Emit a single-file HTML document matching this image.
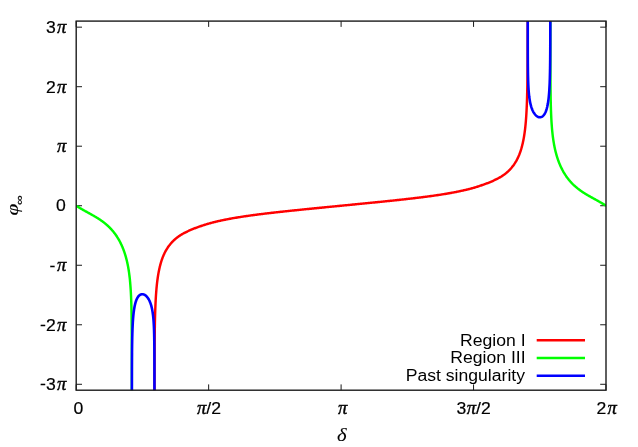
<!DOCTYPE html>
<html><head><meta charset="utf-8"><title>plot</title>
<style>
html,body{margin:0;padding:0;background:#fff;}
body{width:638px;height:447px;overflow:hidden;}
svg{display:block;will-change:transform;}
text{font-family:"Liberation Sans",sans-serif;font-size:17.6px;fill:#000;}
text{stroke:#000;stroke-width:0.2px;}
.s{stroke-width:0.4px;font-family:"Liberation Serif",serif;font-style:italic;font-size:18.6px;}
.c{fill:none;stroke-width:2.45;stroke-linejoin:round;stroke-linecap:butt;}
</style></head><body>
<svg width="638" height="447" viewBox="0 0 638 447">
<rect width="638" height="447" fill="#fff"/>
<defs><clipPath id="cp"><rect x="76.2" y="21.1" width="529.80" height="369.10"/></clipPath></defs>
<g stroke="#1a1a1a" stroke-width="1" fill="none"><path d="M76.20 390.2 v-5.8 M76.20 21.1 v5.8"/><path d="M208.65 390.2 v-5.8 M208.65 21.1 v5.8"/><path d="M341.10 390.2 v-5.8 M341.10 21.1 v5.8"/><path d="M473.55 390.2 v-5.8 M473.55 21.1 v5.8"/><path d="M606.00 390.2 v-5.8 M606.00 21.1 v5.8"/><path d="M76.2 384.29 h5.8 M606.0 384.29 h-5.8"/><path d="M76.2 324.77 h5.8 M606.0 324.77 h-5.8"/><path d="M76.2 265.25 h5.8 M606.0 265.25 h-5.8"/><path d="M76.2 205.73 h5.8 M606.0 205.73 h-5.8"/><path d="M76.2 146.21 h5.8 M606.0 146.21 h-5.8"/><path d="M76.2 86.69 h5.8 M606.0 86.69 h-5.8"/><path d="M76.2 27.17 h5.8 M606.0 27.17 h-5.8"/></g>
<g clip-path="url(#cp)">
<path class="c" stroke="#ff0000" d="M154.45 459.63 L154.45 458.73 L154.45 457.83 L154.45 456.95 L154.45 456.07 L154.45 455.20 L154.45 454.34 L154.45 453.49 L154.45 452.65 L154.45 451.81 L154.45 450.98 L154.45 450.16 L154.45 449.34 L154.45 448.53 L154.45 447.73 L154.45 446.54 L154.45 445.37 L154.45 444.21 L154.45 443.06 L154.45 441.93 L154.45 440.81 L154.45 439.71 L154.45 438.62 L154.45 437.54 L154.45 436.47 L154.45 435.41 L154.45 434.37 L154.45 433.34 L154.45 432.32 L154.45 431.31 L154.45 430.31 L154.45 429.32 L154.46 428.34 L154.46 427.38 L154.46 426.42 L154.46 425.47 L154.46 424.53 L154.46 423.60 L154.46 422.68 L154.46 421.77 L154.46 420.87 L154.46 419.98 L154.46 419.09 L154.46 418.22 L154.46 417.35 L154.46 416.49 L154.46 415.64 L154.46 414.79 L154.46 413.95 L154.46 413.12 L154.46 412.30 L154.46 411.49 L154.46 410.68 L154.46 409.88 L154.46 408.82 L154.46 407.77 L154.46 406.74 L154.46 405.71 L154.46 404.70 L154.46 403.70 L154.47 402.71 L154.47 401.73 L154.47 400.76 L154.47 399.80 L154.47 398.85 L154.47 397.91 L154.47 396.98 L154.47 396.06 L154.47 395.14 L154.47 394.24 L154.47 393.34 L154.47 392.46 L154.47 391.58 L154.48 390.71 L154.48 389.85 L154.48 388.99 L154.48 388.14 L154.48 387.31 L154.48 386.47 L154.48 385.65 L154.48 384.83 L154.48 384.02 L154.48 383.22 L154.49 382.23 L154.49 381.24 L154.49 380.27 L154.49 379.31 L154.49 378.35 L154.49 377.41 L154.50 376.47 L154.50 375.55 L154.50 374.63 L154.50 373.73 L154.50 372.83 L154.51 371.94 L154.51 371.06 L154.51 370.18 L154.51 369.32 L154.52 368.46 L154.52 367.61 L154.52 366.77 L154.52 365.94 L154.53 365.11 L154.53 364.29 L154.53 363.48 L154.53 362.68 L154.54 361.88 L154.54 360.93 L154.54 359.99 L154.55 359.06 L154.55 358.14 L154.56 357.23 L154.56 356.33 L154.56 355.43 L154.57 354.55 L154.57 353.67 L154.58 352.80 L154.58 351.94 L154.59 351.09 L154.59 350.24 L154.60 349.40 L154.60 348.57 L154.61 347.75 L154.61 346.94 L154.62 346.13 L154.63 345.33 L154.63 344.53 L154.64 343.61 L154.65 342.71 L154.65 341.80 L154.66 340.91 L154.67 340.03 L154.68 339.16 L154.69 338.29 L154.70 337.43 L154.71 336.58 L154.72 335.74 L154.73 334.90 L154.74 334.07 L154.75 333.25 L154.76 332.44 L154.77 331.63 L154.78 330.84 L154.79 330.04 L154.80 329.15 L154.82 328.26 L154.83 327.38 L154.85 326.51 L154.86 325.64 L154.88 324.79 L154.89 323.94 L154.91 323.10 L154.92 322.27 L154.94 321.45 L154.96 320.63 L154.98 319.82 L155.00 319.02 L155.01 318.22 L155.03 317.43 L155.05 316.65 L155.08 315.78 L155.10 314.92 L155.13 314.06 L155.15 313.22 L155.18 312.38 L155.20 311.54 L155.23 310.72 L155.26 309.90 L155.29 309.10 L155.32 308.29 L155.35 307.50 L155.38 306.71 L155.41 305.93 L155.44 305.16 L155.48 304.39 L155.51 303.54 L155.55 302.71 L155.59 301.88 L155.64 301.06 L155.68 300.24 L155.72 299.44 L155.77 298.64 L155.81 297.85 L155.86 297.06 L155.91 296.28 L155.96 295.51 L156.01 294.75 L156.06 293.99 L156.12 293.24 L156.18 292.42 L156.24 291.61 L156.30 290.81 L156.37 290.01 L156.43 289.23 L156.50 288.44 L156.57 287.67 L156.65 286.90 L156.72 286.14 L156.80 285.39 L156.87 284.64 L156.95 283.91 L157.04 283.17 L157.12 282.45 L157.21 281.72 L157.29 281.01 L157.39 280.24 L157.49 279.47 L157.60 278.72 L157.70 277.97 L157.81 277.22 L157.92 276.49 L158.04 275.76 L158.15 275.03 L158.27 274.32 L158.40 273.61 L158.52 272.90 L158.65 272.20 L158.78 271.51 L158.92 270.83 L159.06 270.15 L159.20 269.48 L159.34 268.81 L159.49 268.15 L159.64 267.49 L159.79 266.84 L159.95 266.20 L160.13 265.51 L160.31 264.82 L160.49 264.15 L160.68 263.48 L160.87 262.81 L161.06 262.16 L161.26 261.51 L161.47 260.86 L161.68 260.23 L161.89 259.60 L162.11 258.98 L162.34 258.36 L162.56 257.75 L162.80 257.14 L163.04 256.55 L163.28 255.96 L163.53 255.37 L163.78 254.79 L164.04 254.22 L164.31 253.65 L164.58 253.09 L164.85 252.54 L165.13 251.99 L165.42 251.45 L165.71 250.91 L166.01 250.38 L166.32 249.85 L166.63 249.34 L166.94 248.82 L167.26 248.31 L167.59 247.81 L167.93 247.31 L168.27 246.82 L168.62 246.33 L168.97 245.85 L169.33 245.37 L169.70 244.89 L170.07 244.42 L170.45 243.96 L170.84 243.50 L171.24 243.04 L171.64 242.59 L172.05 242.15 L172.47 241.71 L172.89 241.28 L173.32 240.85 L173.76 240.43 L174.21 240.01 L174.63 239.63 L175.05 239.25 L175.48 238.88 L175.92 238.51 L176.37 238.15 L176.82 237.78 L177.28 237.43 L177.75 237.08 L178.22 236.73 L178.70 236.38 L179.19 236.04 L179.69 235.71 L180.19 235.38 L180.70 235.05 L181.22 234.73 L181.75 234.41 L182.28 234.11 L182.82 233.80 L183.37 233.50 L183.93 233.20 L184.49 232.90 L185.07 232.61 L185.60 232.34 L186.14 232.07 L186.69 231.80 L187.24 231.53 L187.80 231.26 L188.37 230.98 L188.94 230.71 L189.53 230.45 L190.12 230.18 L190.71 229.92 L191.32 229.66 L191.93 229.40 L192.55 229.14 L193.12 228.91 L193.70 228.68 L194.28 228.45 L194.87 228.23 L195.47 228.00 L196.07 227.78 L196.68 227.55 L197.29 227.33 L197.92 227.11 L198.55 226.89 L199.18 226.67 L199.82 226.45 L200.47 226.23 L201.13 226.01 L201.79 225.78 L202.40 225.58 L203.01 225.38 L203.62 225.18 L204.24 224.98 L204.87 224.78 L205.50 224.57 L206.14 224.37 L206.79 224.17 L207.44 223.98 L208.09 223.78 L208.75 223.59 L209.42 223.40 L210.10 223.21 L210.78 223.02 L211.47 222.84 L212.16 222.66 L212.86 222.47 L213.57 222.29 L214.28 222.11 L215.00 221.94 L215.64 221.78 L216.29 221.62 L216.95 221.47 L217.61 221.31 L218.27 221.16 L218.94 221.01 L219.62 220.86 L220.30 220.71 L220.99 220.56 L221.68 220.41 L222.37 220.26 L223.08 220.11 L223.79 219.97 L224.50 219.82 L225.22 219.68 L225.94 219.53 L226.67 219.39 L227.41 219.25 L228.15 219.11 L228.90 218.96 L229.65 218.82 L230.41 218.69 L231.17 218.55 L231.94 218.41 L232.71 218.27 L233.40 218.15 L234.09 218.03 L234.78 217.91 L235.47 217.80 L236.18 217.68 L236.88 217.56 L237.59 217.44 L238.31 217.33 L239.03 217.21 L239.75 217.10 L240.48 216.98 L241.21 216.87 L241.95 216.75 L242.69 216.64 L243.44 216.53 L244.19 216.41 L244.95 216.30 L245.71 216.19 L246.48 216.08 L247.25 215.96 L248.03 215.85 L248.81 215.74 L249.59 215.63 L250.38 215.52 L251.18 215.41 L251.98 215.30 L252.79 215.19 L253.60 215.08 L254.41 214.97 L255.23 214.86 L255.94 214.77 L256.65 214.68 L257.37 214.59 L258.08 214.49 L258.81 214.40 L259.53 214.31 L260.26 214.22 L261.00 214.12 L261.73 214.03 L262.48 213.94 L263.22 213.85 L263.97 213.76 L264.72 213.66 L265.48 213.57 L266.24 213.48 L267.01 213.39 L267.77 213.30 L268.55 213.21 L269.32 213.12 L270.10 213.03 L270.89 212.94 L271.68 212.84 L272.47 212.75 L273.26 212.66 L274.06 212.57 L274.87 212.48 L275.68 212.39 L276.49 212.30 L277.31 212.21 L278.13 212.12 L278.95 212.03 L279.78 211.93 L280.61 211.84 L281.45 211.75 L282.29 211.66 L283.14 211.57 L283.99 211.48 L284.84 211.39 L285.70 211.29 L286.56 211.20 L287.43 211.11 L288.15 211.03 L288.88 210.95 L289.61 210.88 L290.35 210.80 L291.08 210.72 L291.82 210.65 L292.57 210.57 L293.31 210.49 L294.06 210.41 L294.82 210.33 L295.57 210.26 L296.33 210.18 L297.09 210.10 L297.86 210.02 L298.62 209.94 L299.39 209.86 L300.17 209.79 L300.94 209.71 L301.72 209.63 L302.51 209.55 L303.29 209.47 L304.08 209.39 L304.88 209.31 L305.67 209.23 L306.47 209.15 L307.27 209.07 L308.08 208.99 L308.88 208.91 L309.70 208.82 L310.51 208.74 L311.33 208.66 L312.15 208.58 L312.97 208.50 L313.80 208.42 L314.63 208.33 L315.47 208.25 L316.30 208.17 L317.14 208.08 L317.99 208.00 L318.83 207.92 L319.68 207.83 L320.54 207.75 L321.40 207.67 L322.26 207.58 L323.12 207.50 L323.99 207.41 L324.86 207.32 L325.73 207.24 L326.61 207.15 L327.49 207.07 L328.37 206.98 L329.26 206.89 L330.15 206.80 L331.04 206.72 L331.94 206.63 L332.84 206.54 L333.74 206.45 L334.65 206.36 L335.56 206.27 L336.29 206.20 L337.03 206.13 L337.76 206.06 L338.50 205.98 L339.24 205.91 L339.98 205.84 L340.73 205.77 L341.47 205.69 L342.22 205.62 L342.96 205.55 L343.70 205.48 L344.44 205.40 L345.17 205.33 L345.91 205.26 L346.64 205.19 L347.37 205.12 L348.28 205.03 L349.18 204.94 L350.08 204.85 L350.98 204.76 L351.87 204.67 L352.76 204.59 L353.65 204.50 L354.54 204.41 L355.42 204.33 L356.30 204.24 L357.17 204.15 L358.04 204.07 L358.91 203.98 L359.77 203.90 L360.63 203.81 L361.49 203.73 L362.34 203.64 L363.20 203.56 L364.04 203.48 L364.89 203.39 L365.73 203.31 L366.57 203.23 L367.40 203.14 L368.23 203.06 L369.06 202.98 L369.89 202.90 L370.71 202.81 L371.53 202.73 L372.34 202.65 L373.15 202.57 L373.96 202.49 L374.77 202.41 L375.57 202.33 L376.37 202.25 L377.17 202.17 L377.96 202.09 L378.75 202.01 L379.54 201.93 L380.32 201.85 L381.10 201.77 L381.88 201.69 L382.65 201.61 L383.42 201.53 L384.19 201.45 L384.96 201.38 L385.72 201.30 L386.48 201.22 L387.23 201.14 L387.99 201.06 L388.74 200.99 L389.48 200.91 L390.23 200.83 L390.97 200.75 L391.71 200.68 L392.44 200.60 L393.17 200.52 L393.90 200.44 L394.63 200.37 L395.49 200.27 L396.36 200.18 L397.22 200.09 L398.07 200.00 L398.92 199.91 L399.77 199.82 L400.61 199.72 L401.45 199.63 L402.28 199.54 L403.11 199.45 L403.94 199.36 L404.76 199.27 L405.57 199.18 L406.39 199.09 L407.20 198.99 L408.00 198.90 L408.80 198.81 L409.60 198.72 L410.39 198.63 L411.18 198.54 L411.97 198.45 L412.75 198.36 L413.52 198.27 L414.30 198.18 L415.07 198.08 L415.83 197.99 L416.59 197.90 L417.35 197.81 L418.10 197.72 L418.85 197.63 L419.60 197.54 L420.34 197.44 L421.08 197.35 L421.81 197.26 L422.55 197.17 L423.27 197.08 L424.00 196.98 L424.71 196.89 L425.43 196.80 L426.14 196.70 L426.85 196.61 L427.67 196.50 L428.49 196.39 L429.30 196.28 L430.11 196.17 L430.91 196.06 L431.70 195.95 L432.49 195.84 L433.28 195.73 L434.06 195.62 L434.84 195.51 L435.61 195.40 L436.38 195.29 L437.14 195.18 L437.90 195.06 L438.65 194.95 L439.40 194.84 L440.14 194.72 L440.88 194.61 L441.62 194.49 L442.35 194.38 L443.07 194.26 L443.79 194.15 L444.51 194.03 L445.22 193.92 L445.92 193.80 L446.63 193.68 L447.32 193.56 L448.02 193.44 L448.70 193.33 L449.39 193.21 L450.16 193.07 L450.93 192.93 L451.70 192.79 L452.46 192.65 L453.21 192.51 L453.96 192.37 L454.70 192.23 L455.44 192.09 L456.17 191.95 L456.89 191.80 L457.61 191.66 L458.33 191.51 L459.03 191.37 L459.74 191.22 L460.44 191.07 L461.13 190.92 L461.81 190.77 L462.50 190.62 L463.17 190.47 L463.84 190.32 L464.51 190.17 L465.17 190.01 L465.83 189.86 L466.48 189.70 L467.12 189.54 L467.84 189.37 L468.55 189.19 L469.26 189.01 L469.96 188.83 L470.66 188.64 L471.34 188.46 L472.03 188.27 L472.70 188.08 L473.37 187.89 L474.03 187.70 L474.69 187.51 L475.34 187.31 L475.99 187.11 L476.63 186.91 L477.26 186.71 L477.89 186.51 L478.51 186.30 L479.12 186.10 L479.73 185.90 L480.34 185.70 L481.00 185.48 L481.66 185.25 L482.31 185.03 L482.95 184.81 L483.59 184.59 L484.22 184.37 L484.84 184.15 L485.46 183.93 L486.07 183.71 L486.67 183.48 L487.27 183.26 L487.86 183.03 L488.44 182.80 L489.02 182.57 L489.59 182.34 L490.21 182.08 L490.83 181.82 L491.43 181.56 L492.03 181.30 L492.62 181.04 L493.20 180.77 L493.78 180.50 L494.35 180.23 L494.91 179.95 L495.46 179.68 L496.01 179.41 L496.55 179.14 L497.08 178.87 L497.66 178.58 L498.22 178.28 L498.78 177.99 L499.33 177.69 L499.87 177.38 L500.41 177.07 L500.94 176.76 L501.45 176.44 L501.97 176.11 L502.47 175.78 L502.97 175.44 L503.46 175.10 L503.94 174.76 L504.41 174.41 L504.88 174.06 L505.34 173.70 L505.79 173.35 L506.24 172.98 L506.68 172.61 L507.11 172.24 L507.54 171.86 L507.96 171.48 L508.41 171.07 L508.84 170.64 L509.28 170.21 L509.70 169.78 L510.12 169.34 L510.53 168.90 L510.93 168.45 L511.33 168.00 L511.72 167.54 L512.10 167.07 L512.47 166.60 L512.84 166.13 L513.20 165.65 L513.56 165.17 L513.90 164.68 L514.25 164.19 L514.58 163.69 L514.91 163.19 L515.23 162.68 L515.55 162.16 L515.86 161.65 L516.17 161.12 L516.46 160.59 L516.76 160.05 L517.05 159.51 L517.33 158.96 L517.60 158.41 L517.87 157.85 L518.14 157.28 L518.40 156.71 L518.65 156.13 L518.90 155.55 L519.15 154.96 L519.38 154.36 L519.62 153.76 L519.85 153.15 L520.07 152.53 L520.29 151.91 L520.51 151.28 L520.72 150.64 L520.92 150.00 L521.12 149.35 L521.32 148.70 L521.51 148.03 L521.70 147.36 L521.88 146.69 L522.06 146.00 L522.23 145.31 L522.39 144.67 L522.55 144.02 L522.70 143.37 L522.85 142.71 L522.99 142.04 L523.13 141.37 L523.27 140.69 L523.41 140.00 L523.54 139.31 L523.67 138.62 L523.79 137.91 L523.92 137.20 L524.04 136.49 L524.15 135.77 L524.27 135.04 L524.38 134.30 L524.49 133.56 L524.59 132.81 L524.70 132.05 L524.80 131.29 L524.90 130.51 L524.99 129.80 L525.07 129.08 L525.16 128.35 L525.24 127.62 L525.32 126.88 L525.40 126.14 L525.47 125.38 L525.55 124.63 L525.62 123.86 L525.69 123.09 L525.76 122.31 L525.83 121.52 L525.89 120.72 L525.96 119.92 L526.02 119.11 L526.08 118.29 L526.13 117.54 L526.19 116.79 L526.24 116.02 L526.29 115.25 L526.34 114.48 L526.38 113.69 L526.43 112.90 L526.47 112.10 L526.52 111.30 L526.56 110.48 L526.60 109.66 L526.64 108.84 L526.68 108.00 L526.72 107.16 L526.75 106.39 L526.79 105.62 L526.82 104.84 L526.85 104.05 L526.88 103.25 L526.91 102.45 L526.94 101.65 L526.97 100.83 L526.99 100.01 L527.02 99.18 L527.05 98.34 L527.07 97.49 L527.10 96.64 L527.12 95.78 L527.14 94.91 L527.16 94.12 L527.18 93.34 L527.20 92.54 L527.22 91.74 L527.24 90.93 L527.26 90.12 L527.27 89.29 L527.29 88.46 L527.31 87.62 L527.32 86.78 L527.34 85.92 L527.35 85.06 L527.37 84.19 L527.38 83.31 L527.40 82.42 L527.41 81.53 L527.42 80.74 L527.43 79.94 L527.44 79.14 L527.45 78.32 L527.46 77.50 L527.47 76.68 L527.48 75.84 L527.49 75.00 L527.50 74.15 L527.51 73.29 L527.52 72.43 L527.53 71.56 L527.54 70.67 L527.54 69.78 L527.55 68.88 L527.56 67.98 L527.57 67.06 L527.57 66.13 L527.58 65.33 L527.59 64.52 L527.59 63.71 L527.60 62.89 L527.60 62.06 L527.61 61.22 L527.61 60.37 L527.62 59.52 L527.62 58.66 L527.63 57.79 L527.63 56.91 L527.64 56.03 L527.64 55.13 L527.64 54.23 L527.65 53.32 L527.65 52.40 L527.66 51.47 L527.66 50.53 L527.66 49.58 L527.67 48.78 L527.67 47.98 L527.67 47.17 L527.67 46.35 L527.68 45.52 L527.68 44.69 L527.68 43.85 L527.68 43.00 L527.69 42.14 L527.69 41.28 L527.69 40.40 L527.69 39.52 L527.70 38.63 L527.70 37.73 L527.70 36.83 L527.70 35.91 L527.70 34.99 L527.71 34.05 L527.71 33.11 L527.71 32.15 L527.71 31.19 L527.71 30.22 L527.71 29.23 L527.72 28.24 L527.72 27.44 L527.72 26.63 L527.72 25.81 L527.72 24.99 L527.72 24.15 L527.72 23.32 L527.72 22.47 L527.72 21.61 L527.72 20.75 L527.73 19.88 L527.73 19.00 L527.73 18.12 L527.73 17.22 L527.73 16.32 L527.73 15.40 L527.73 14.48 L527.73 13.55 L527.73 12.61 L527.73 11.66 L527.73 10.70 L527.73 9.73 L527.73 8.75 L527.74 7.76 L527.74 6.76 L527.74 5.75 L527.74 4.72 L527.74 3.69 L527.74 2.64 L527.74 1.58 L527.74 0.78 L527.74 -0.03 L527.74 -0.84 L527.74 -1.66 L527.74 -2.49 L527.74 -3.33 L527.74 -4.18 L527.74 -5.03 L527.74 -5.89 L527.74 -6.76 L527.74 -7.63 L527.74 -8.52 L527.74 -9.41 L527.74 -10.31 L527.74 -11.22 L527.74 -12.14 L527.74 -13.07 L527.74 -14.01 L527.74 -14.96 L527.74 -15.92 L527.74 -16.88 L527.75 -17.86 L527.75 -18.85 L527.75 -19.85 L527.75 -20.86 L527.75 -21.88 L527.75 -22.91 L527.75 -23.95 L527.75 -25.01 L527.75 -26.08 L527.75 -27.16 L527.75 -28.25 L527.75 -29.35 L527.75 -30.47 L527.75 -31.60 L527.75 -32.75 L527.75 -33.91 L527.75 -35.08 L527.75 -36.27 L527.75 -37.07 L527.75 -37.88 L527.75 -38.70 L527.75 -39.52 L527.75 -39.93"/>
<path class="c" stroke="#00ff00" d="M76.20 205.73 L76.70 206.05 L77.20 206.37 L77.69 206.68 L78.23 207.02 L78.77 207.35 L79.31 207.67 L79.84 207.99 L80.36 208.31 L80.89 208.61 L81.41 208.92 L81.92 209.22 L82.43 209.51 L82.99 209.83 L83.54 210.14 L84.09 210.45 L84.64 210.75 L85.17 211.06 L85.71 211.35 L86.24 211.64 L86.76 211.93 L87.28 212.22 L87.80 212.51 L88.36 212.81 L88.91 213.12 L89.46 213.42 L90.00 213.72 L90.54 214.02 L91.07 214.31 L91.59 214.61 L92.12 214.90 L92.63 215.19 L93.14 215.48 L93.69 215.80 L94.23 216.11 L94.77 216.43 L95.30 216.74 L95.83 217.06 L96.35 217.37 L96.86 217.68 L97.37 218.00 L97.87 218.31 L98.37 218.63 L98.86 218.95 L99.35 219.26 L99.83 219.58 L100.34 219.93 L100.84 220.28 L101.34 220.63 L101.84 220.98 L102.32 221.33 L102.81 221.68 L103.28 222.04 L103.75 222.40 L104.21 222.76 L104.67 223.12 L105.13 223.49 L105.57 223.86 L106.01 224.23 L106.45 224.60 L106.88 224.97 L107.30 225.35 L107.75 225.76 L108.19 226.17 L108.63 226.58 L109.06 227.00 L109.49 227.42 L109.90 227.84 L110.32 228.27 L110.72 228.69 L111.12 229.13 L111.52 229.56 L111.91 230.00 L112.29 230.44 L112.67 230.88 L113.04 231.33 L113.41 231.77 L113.77 232.23 L114.13 232.68 L114.48 233.14 L114.83 233.60 L115.17 234.06 L115.50 234.52 L115.86 235.02 L116.20 235.52 L116.54 236.03 L116.88 236.54 L117.21 237.05 L117.53 237.56 L117.85 238.08 L118.17 238.60 L118.48 239.12 L118.78 239.64 L119.08 240.17 L119.37 240.70 L119.66 241.23 L119.94 241.77 L120.22 242.30 L120.49 242.84 L120.76 243.38 L121.02 243.93 L121.28 244.48 L121.53 245.02 L121.78 245.58 L122.04 246.16 L122.30 246.76 L122.55 247.35 L122.79 247.95 L123.03 248.54 L123.27 249.15 L123.50 249.75 L123.72 250.36 L123.95 250.97 L124.16 251.58 L124.37 252.19 L124.58 252.81 L124.79 253.43 L124.98 254.05 L125.18 254.67 L125.37 255.30 L125.56 255.93 L125.74 256.56 L125.92 257.19 L126.09 257.83 L126.26 258.47 L126.43 259.11 L126.59 259.76 L126.75 260.41 L126.91 261.06 L127.06 261.71 L127.21 262.37 L127.35 263.03 L127.50 263.70 L127.63 264.36 L127.77 265.03 L127.90 265.70 L128.03 266.38 L128.15 267.06 L128.28 267.74 L128.40 268.43 L128.51 269.12 L128.63 269.82 L128.74 270.52 L128.84 271.22 L128.95 271.92 L129.05 272.63 L129.15 273.35 L129.25 274.07 L129.34 274.79 L129.43 275.52 L129.52 276.25 L129.61 276.99 L129.69 277.73 L129.77 278.48 L129.85 279.24 L129.93 279.99 L130.00 280.76 L130.07 281.53 L130.15 282.30 L130.21 283.04 L130.27 283.78 L130.33 284.53 L130.39 285.28 L130.45 286.04 L130.50 286.80 L130.56 287.58 L130.61 288.35 L130.66 289.14 L130.71 289.93 L130.76 290.73 L130.80 291.53 L130.84 292.29 L130.89 293.06 L130.92 293.83 L130.96 294.62 L131.00 295.40 L131.04 296.20 L131.07 297.00 L131.10 297.82 L131.14 298.63 L131.17 299.41 L131.19 300.19 L131.22 300.97 L131.25 301.77 L131.27 302.57 L131.30 303.38 L131.32 304.20 L131.35 305.02 L131.37 305.86 L131.39 306.64 L131.41 307.43 L131.43 308.23 L131.45 309.04 L131.46 309.86 L131.48 310.68 L131.50 311.52 L131.51 312.36 L131.53 313.15 L131.54 313.94 L131.55 314.74 L131.57 315.55 L131.58 316.37 L131.59 317.20 L131.60 318.04 L131.61 318.89 L131.63 319.74 L131.63 320.54 L131.64 321.34 L131.65 322.15 L131.66 322.97 L131.67 323.80 L131.68 324.64 L131.69 325.49 L131.69 326.35 L131.70 327.21 L131.71 328.01 L131.71 328.82 L131.72 329.64 L131.73 330.46 L131.73 331.29 L131.74 332.14 L131.74 332.99 L131.75 333.85 L131.75 334.73 L131.76 335.61 L131.76 336.42 L131.76 337.23 L131.77 338.06 L131.77 338.89 L131.78 339.73 L131.78 340.58 L131.78 341.45 L131.79 342.32 L131.79 343.20 L131.79 344.10 L131.79 344.90 L131.80 345.71 L131.80 346.53 L131.80 347.37 L131.80 348.21 L131.81 349.06 L131.81 349.92 L131.81 350.79 L131.81 351.68 L131.81 352.57 L131.82 353.47 L131.82 354.27 L131.82 355.08 L131.82 355.90 L131.82 356.73 L131.82 357.57 L131.82 358.42 L131.83 359.28 L131.83 360.14 L131.83 361.02 L131.83 361.91 L131.83 362.81 L131.83 363.73 L131.83 364.65 L131.83 365.45 L131.83 366.26 L131.83 367.08 L131.83 367.91 L131.84 368.75 L131.84 369.60 L131.84 370.46 L131.84 371.33 L131.84 372.21 L131.84 373.10 L131.84 374.00 L131.84 374.91 L131.84 375.84 L131.84 376.78 L131.84 377.73 L131.84 378.53 L131.84 379.34 L131.84 380.16 L131.84 380.99 L131.84 381.83 L131.84 382.68 L131.84 383.53 L131.84 384.40 L131.84 385.28 L131.84 386.17 L131.84 387.08 L131.84 387.99 L131.85 388.91 L131.85 389.85 L131.85 390.80 L131.85 391.76 L131.85 392.74 L131.85 393.73 L131.85 394.53 L131.85 395.34 L131.85 396.16 L131.85 396.99 L131.85 397.83 L131.85 398.67 L131.85 399.53 L131.85 400.40 L131.85 401.28 L131.85 402.17 L131.85 403.07 L131.85 403.99 L131.85 404.91 L131.85 405.85 L131.85 406.80 L131.85 407.76 L131.85 408.74 L131.85 409.73 L131.85 410.73 L131.85 411.75 L131.85 412.78 L131.85 413.82 L131.85 414.89 L131.85 415.69 L131.85 416.51 L131.85 417.33 L131.85 418.17 L131.85 419.01 L131.85 419.87 L131.85 420.73 L131.85 421.61 L131.85 422.50 L131.85 423.39 L131.85 424.30 L131.85 425.23 L131.85 426.16 L131.85 427.10 L131.85 428.06 L131.85 429.03 L131.85 430.02 L131.85 431.01 L131.85 432.03 L131.85 433.05 L131.85 434.09 L131.85 435.15 L131.85 436.22 L131.85 437.31 L131.85 438.42 L131.85 439.54 L131.85 440.68 L131.85 441.84 L131.85 443.02 L131.85 444.21 L131.85 445.02 L131.85 445.84 L131.85 446.67 L131.85 447.51 L131.85 448.36 L131.85 449.22 L131.85 450.08 L131.85 450.96 L131.85 451.85 L131.85 452.75 L131.85 453.67 L131.85 454.59 L131.85 455.53 L131.85 456.48 L131.85 457.44 L131.85 458.41 L131.85 459.40 L131.85 459.90"/>
<path class="c" stroke="#00ff00" d="M550.35 -39.95 L550.35 -39.06 L550.35 -38.19 L550.35 -37.33 L550.35 -36.47 L550.35 -35.63 L550.35 -34.80 L550.35 -33.97 L550.35 -33.16 L550.35 -32.35 L550.35 -31.16 L550.35 -29.99 L550.35 -28.84 L550.35 -27.70 L550.35 -26.59 L550.35 -25.49 L550.35 -24.40 L550.35 -23.34 L550.35 -22.28 L550.35 -21.25 L550.35 -20.23 L550.35 -19.22 L550.35 -18.23 L550.35 -17.25 L550.35 -16.28 L550.35 -15.33 L550.35 -14.39 L550.35 -13.46 L550.35 -12.54 L550.35 -11.63 L550.35 -10.74 L550.35 -9.86 L550.35 -8.98 L550.35 -8.12 L550.35 -7.27 L550.35 -6.43 L550.35 -5.60 L550.35 -4.78 L550.35 -3.96 L550.35 -3.16 L550.35 -2.10 L550.35 -1.06 L550.35 -0.03 L550.35 0.98 L550.35 1.98 L550.35 2.97 L550.35 3.94 L550.35 4.90 L550.35 5.85 L550.35 6.78 L550.35 7.70 L550.35 8.61 L550.35 9.51 L550.35 10.40 L550.35 11.28 L550.35 12.14 L550.35 13.00 L550.35 13.84 L550.35 14.68 L550.35 15.51 L550.35 16.32 L550.35 17.13 L550.35 18.13 L550.35 19.11 L550.35 20.08 L550.35 21.04 L550.35 21.98 L550.35 22.92 L550.36 23.84 L550.36 24.75 L550.36 25.64 L550.36 26.53 L550.36 27.41 L550.36 28.27 L550.36 29.13 L550.36 29.97 L550.36 30.81 L550.36 31.63 L550.36 32.45 L550.36 33.25 L550.36 34.21 L550.36 35.15 L550.36 36.08 L550.36 37.00 L550.36 37.91 L550.36 38.81 L550.36 39.69 L550.36 40.57 L550.36 41.43 L550.36 42.29 L550.37 43.13 L550.37 43.96 L550.37 44.79 L550.37 45.60 L550.37 46.41 L550.37 47.34 L550.37 48.26 L550.37 49.16 L550.37 50.06 L550.37 50.94 L550.37 51.81 L550.38 52.68 L550.38 53.53 L550.38 54.37 L550.38 55.20 L550.38 56.03 L550.38 56.84 L550.38 57.64 L550.39 58.55 L550.39 59.45 L550.39 60.34 L550.39 61.21 L550.39 62.08 L550.40 62.93 L550.40 63.78 L550.40 64.61 L550.40 65.44 L550.40 66.26 L550.41 67.06 L550.41 67.86 L550.41 68.75 L550.42 69.63 L550.42 70.50 L550.42 71.35 L550.43 72.20 L550.43 73.04 L550.43 73.86 L550.44 74.68 L550.44 75.49 L550.45 76.29 L550.45 77.17 L550.46 78.04 L550.46 78.90 L550.47 79.75 L550.47 80.58 L550.48 81.41 L550.48 82.23 L550.49 83.05 L550.50 83.85 L550.50 84.64 L550.51 85.50 L550.52 86.36 L550.53 87.20 L550.53 88.04 L550.54 88.86 L550.55 89.68 L550.56 90.49 L550.57 91.28 L550.58 92.07 L550.59 92.93 L550.60 93.77 L550.61 94.60 L550.63 95.43 L550.64 96.25 L550.65 97.05 L550.67 97.85 L550.68 98.64 L550.69 99.49 L550.71 100.33 L550.73 101.16 L550.75 101.98 L550.76 102.79 L550.78 103.60 L550.80 104.39 L550.82 105.18 L550.84 105.96 L550.86 106.79 L550.89 107.61 L550.91 108.43 L550.94 109.24 L550.96 110.03 L550.99 110.83 L551.02 111.61 L551.05 112.38 L551.08 113.21 L551.11 114.02 L551.15 114.83 L551.18 115.63 L551.22 116.42 L551.25 117.21 L551.29 117.99 L551.33 118.76 L551.37 119.52 L551.42 120.28 L551.46 121.08 L551.51 121.88 L551.56 122.67 L551.61 123.45 L551.67 124.22 L551.72 124.99 L551.78 125.75 L551.83 126.51 L551.89 127.26 L551.96 128.00 L552.02 128.74 L552.09 129.52 L552.16 130.29 L552.23 131.06 L552.31 131.82 L552.39 132.58 L552.47 133.33 L552.55 134.08 L552.63 134.82 L552.72 135.55 L552.81 136.28 L552.90 137.01 L553.00 137.73 L553.10 138.45 L553.20 139.16 L553.30 139.87 L553.41 140.57 L553.52 141.27 L553.63 141.97 L553.74 142.66 L553.86 143.35 L553.98 144.04 L554.10 144.72 L554.23 145.40 L554.36 146.07 L554.49 146.74 L554.63 147.41 L554.77 148.08 L554.91 148.74 L555.06 149.40 L555.21 150.05 L555.36 150.71 L555.52 151.36 L555.68 152.00 L555.85 152.65 L556.02 153.29 L556.19 153.93 L556.37 154.56 L556.55 155.20 L556.73 155.83 L556.92 156.46 L557.11 157.08 L557.31 157.71 L557.51 158.33 L557.71 158.94 L557.92 159.56 L558.14 160.17 L558.36 160.78 L558.58 161.39 L558.81 161.99 L559.04 162.60 L559.28 163.20 L559.52 163.80 L559.77 164.39 L560.02 164.98 L560.28 165.57 L560.54 166.16 L560.79 166.71 L561.05 167.26 L561.31 167.80 L561.58 168.35 L561.85 168.89 L562.12 169.43 L562.40 169.96 L562.69 170.50 L562.98 171.03 L563.27 171.55 L563.57 172.08 L563.88 172.60 L564.19 173.12 L564.51 173.64 L564.83 174.16 L565.15 174.67 L565.49 175.18 L565.83 175.68 L566.17 176.19 L566.52 176.69 L566.87 177.18 L567.21 177.65 L567.56 178.11 L567.91 178.57 L568.26 179.02 L568.62 179.48 L568.98 179.93 L569.35 180.37 L569.73 180.82 L570.11 181.26 L570.50 181.70 L570.89 182.13 L571.29 182.56 L571.69 182.99 L572.10 183.42 L572.52 183.84 L572.94 184.27 L573.37 184.68 L573.80 185.10 L574.24 185.51 L574.69 185.92 L575.11 186.30 L575.54 186.67 L575.97 187.05 L576.41 187.42 L576.85 187.79 L577.30 188.16 L577.76 188.52 L578.22 188.88 L578.68 189.24 L579.16 189.60 L579.63 189.95 L580.12 190.31 L580.61 190.66 L581.11 191.01 L581.61 191.36 L582.12 191.70 L582.63 192.05 L583.12 192.37 L583.60 192.68 L584.10 193.00 L584.60 193.32 L585.11 193.63 L585.62 193.95 L586.13 194.26 L586.66 194.57 L587.18 194.89 L587.72 195.20 L588.26 195.52 L588.80 195.83 L589.35 196.15 L589.87 196.44 L590.39 196.73 L590.91 197.02 L591.44 197.32 L591.98 197.62 L592.52 197.92 L593.06 198.22 L593.61 198.52 L594.17 198.83 L594.73 199.13 L595.25 199.42 L595.77 199.71 L596.30 200.00 L596.83 200.30 L597.37 200.60 L597.91 200.90 L598.46 201.21 L599.01 201.52 L599.56 201.83 L600.07 202.13 L600.59 202.42 L601.10 202.72 L601.63 203.03 L602.15 203.34 L602.68 203.66 L603.21 203.98 L603.75 204.31 L604.29 204.65 L604.84 204.99 L605.34 205.30 L605.83 205.62 L606.00 205.73"/>
<path class="c" stroke="#0000ff" style="stroke-width:2.6" d="M131.85 459.88 L131.85 458.96 L131.85 458.04 L131.85 457.14 L131.85 456.25 L131.85 455.37 L131.85 454.50 L131.85 453.64 L131.85 452.79 L131.85 451.95 L131.85 451.12 L131.85 450.30 L131.85 449.49 L131.85 448.69 L131.85 447.64 L131.85 446.60 L131.85 445.58 L131.85 444.57 L131.85 443.58 L131.85 442.60 L131.85 441.63 L131.85 440.68 L131.85 439.74 L131.85 438.81 L131.85 437.90 L131.85 436.99 L131.85 436.10 L131.85 435.22 L131.85 434.35 L131.85 433.49 L131.85 432.64 L131.85 431.80 L131.85 430.97 L131.85 430.15 L131.85 429.34 L131.85 428.54 L131.85 427.55 L131.85 426.58 L131.85 425.62 L131.85 424.67 L131.85 423.73 L131.85 422.81 L131.85 421.90 L131.85 421.00 L131.85 420.11 L131.85 419.23 L131.85 418.37 L131.85 417.51 L131.85 416.67 L131.85 415.83 L131.85 415.00 L131.85 414.19 L131.86 413.38 L131.86 412.43 L131.86 411.48 L131.86 410.55 L131.86 409.63 L131.86 408.73 L131.86 407.83 L131.86 406.95 L131.86 406.08 L131.86 405.21 L131.86 404.36 L131.86 403.52 L131.86 402.69 L131.86 401.87 L131.86 401.06 L131.86 400.25 L131.86 399.33 L131.86 398.42 L131.86 397.52 L131.86 396.63 L131.86 395.75 L131.86 394.88 L131.87 394.02 L131.87 393.18 L131.87 392.34 L131.87 391.51 L131.87 390.70 L131.87 389.89 L131.87 388.98 L131.87 388.08 L131.87 387.19 L131.87 386.31 L131.88 385.45 L131.88 384.59 L131.88 383.74 L131.88 382.91 L131.88 382.08 L131.88 381.27 L131.88 380.46 L131.89 379.57 L131.89 378.68 L131.89 377.81 L131.89 376.95 L131.89 376.10 L131.90 375.25 L131.90 374.42 L131.90 373.60 L131.90 372.79 L131.90 371.99 L131.91 371.11 L131.91 370.24 L131.91 369.38 L131.92 368.53 L131.92 367.69 L131.92 366.86 L131.93 366.05 L131.93 365.24 L131.93 364.44 L131.94 363.57 L131.94 362.71 L131.95 361.87 L131.95 361.03 L131.96 360.21 L131.96 359.39 L131.97 358.59 L131.97 357.79 L131.98 356.93 L131.99 356.08 L131.99 355.25 L132.00 354.42 L132.01 353.60 L132.01 352.80 L132.02 352.00 L132.03 351.15 L132.04 350.30 L132.05 349.47 L132.06 348.65 L132.07 347.84 L132.08 347.04 L132.09 346.25 L132.10 345.41 L132.11 344.58 L132.13 343.76 L132.14 342.95 L132.15 342.15 L132.17 341.36 L132.18 340.53 L132.20 339.70 L132.22 338.89 L132.23 338.09 L132.25 337.30 L132.27 336.51 L132.29 335.69 L132.31 334.88 L132.33 334.08 L132.36 333.29 L132.38 332.51 L132.41 331.69 L132.44 330.88 L132.46 330.09 L132.49 329.30 L132.52 328.53 L132.56 327.72 L132.59 326.93 L132.63 326.14 L132.66 325.37 L132.70 324.61 L132.74 323.82 L132.79 323.04 L132.83 322.27 L132.88 321.51 L132.93 320.73 L132.98 319.95 L133.04 319.19 L133.09 318.45 L133.16 317.68 L133.22 316.92 L133.29 316.17 L133.35 315.44 L133.43 314.68 L133.51 313.94 L133.59 313.22 L133.67 312.47 L133.76 311.74 L133.86 311.02 L133.96 310.29 L134.06 309.57 L134.17 308.87 L134.29 308.16 L134.41 307.46 L134.53 306.78 L134.67 306.08 L134.81 305.41 L134.96 304.75 L135.11 304.09 L135.28 303.45 L135.45 302.80 L135.64 302.18 L135.83 301.55 L136.04 300.95 L136.25 300.35 L136.48 299.77 L136.73 299.20 L136.99 298.64 L137.26 298.11 L137.55 297.59 L137.86 297.10 L138.20 296.62 L138.56 296.17 L138.94 295.75 L139.37 295.36 L139.82 295.01 L140.32 294.71 L140.88 294.46 L141.51 294.28 L142.24 294.20 L142.99 294.26 L143.65 294.42 L144.23 294.65 L144.77 294.93 L145.27 295.25 L145.73 295.60 L146.17 295.98 L146.58 296.38 L146.96 296.80 L147.33 297.25 L147.69 297.72 L148.02 298.19 L148.34 298.69 L148.65 299.20 L148.94 299.72 L149.21 300.25 L149.48 300.80 L149.73 301.36 L149.98 301.94 L150.21 302.52 L150.43 303.11 L150.64 303.71 L150.84 304.33 L151.03 304.96 L151.22 305.58 L151.39 306.21 L151.55 306.86 L151.71 307.51 L151.87 308.18 L152.01 308.84 L152.14 309.51 L152.27 310.20 L152.40 310.89 L152.52 311.60 L152.63 312.30 L152.73 313.00 L152.83 313.72 L152.93 314.45 L153.02 315.17 L153.10 315.90 L153.18 316.64 L153.26 317.37 L153.33 318.10 L153.40 318.85 L153.46 319.62 L153.52 320.36 L153.58 321.12 L153.63 321.89 L153.68 322.64 L153.73 323.41 L153.77 324.18 L153.81 324.97 L153.85 325.74 L153.89 326.53 L153.93 327.32 L153.96 328.10 L153.99 328.88 L154.02 329.68 L154.05 330.46 L154.07 331.25 L154.09 332.05 L154.12 332.86 L154.14 333.65 L154.16 334.46 L154.18 335.27 L154.19 336.06 L154.21 336.87 L154.23 337.68 L154.24 338.51 L154.25 339.31 L154.27 340.12 L154.28 340.95 L154.29 341.74 L154.30 342.55 L154.31 343.37 L154.32 344.21 L154.33 345.01 L154.34 345.82 L154.34 346.64 L154.35 347.49 L154.36 348.29 L154.36 349.10 L154.37 349.93 L154.37 350.77 L154.38 351.57 L154.38 352.39 L154.39 353.22 L154.39 354.06 L154.40 354.92 L154.40 355.72 L154.40 356.55 L154.41 357.38 L154.41 358.24 L154.41 359.04 L154.41 359.85 L154.42 360.68 L154.42 361.52 L154.42 362.37 L154.42 363.24 L154.42 364.06 L154.43 364.88 L154.43 365.72 L154.43 366.58 L154.43 367.45 L154.43 368.26 L154.43 369.07 L154.43 369.91 L154.44 370.75 L154.44 371.62 L154.44 372.49 L154.44 373.30 L154.44 374.11 L154.44 374.95 L154.44 375.79 L154.44 376.65 L154.44 377.53 L154.44 378.42 L154.44 379.22 L154.44 380.05 L154.44 380.88 L154.44 381.73 L154.44 382.59 L154.44 383.47 L154.45 384.37 L154.45 385.28 L154.45 386.09 L154.45 386.92 L154.45 387.76 L154.45 388.61 L154.45 389.48 L154.45 390.37 L154.45 391.27 L154.45 392.19 L154.45 392.99 L154.45 393.81 L154.45 394.64 L154.45 395.48 L154.45 396.34 L154.45 397.21 L154.45 398.10 L154.45 399.01 L154.45 399.93 L154.45 400.88 L154.45 401.84 L154.45 402.65 L154.45 403.48 L154.45 404.32 L154.45 405.18 L154.45 406.05 L154.45 406.94 L154.45 407.85 L154.45 408.77 L154.45 409.71 L154.45 410.67 L154.45 411.65 L154.45 412.64 L154.45 413.46 L154.45 414.29 L154.45 415.13 L154.45 415.98 L154.45 416.85 L154.45 417.74 L154.45 418.65 L154.45 419.57 L154.45 420.50 L154.45 421.46 L154.45 422.44 L154.45 423.43 L154.45 424.45 L154.45 425.49 L154.45 426.55 L154.45 427.36 L154.45 428.19 L154.45 429.02 L154.45 429.88 L154.45 430.75 L154.45 431.63 L154.45 432.53 L154.45 433.45 L154.45 434.39 L154.45 435.34 L154.45 436.31 L154.45 437.30 L154.45 438.32 L154.45 439.35 L154.45 440.41 L154.45 441.49 L154.45 442.60 L154.45 443.73 L154.45 444.88 L154.45 446.07 L154.45 446.88 L154.45 447.70 L154.45 448.53 L154.45 449.38 L154.45 450.24 L154.45 451.12 L154.45 452.02 L154.45 452.93 L154.45 453.86 L154.45 454.81 L154.45 455.77 L154.45 456.76 L154.45 457.76 L154.45 458.79 L154.45 459.84"/>
<path class="c" stroke="#0000ff" style="stroke-width:2.6" d="M527.75 -39.66 L527.75 -38.78 L527.75 -37.92 L527.75 -37.07 L527.75 -36.24 L527.75 -35.42 L527.75 -34.61 L527.75 -33.42 L527.75 -32.27 L527.75 -31.14 L527.75 -30.03 L527.75 -28.95 L527.75 -27.89 L527.75 -26.86 L527.75 -25.84 L527.75 -24.85 L527.75 -23.88 L527.75 -22.93 L527.75 -21.99 L527.75 -21.07 L527.75 -20.17 L527.75 -19.29 L527.75 -18.42 L527.75 -17.56 L527.75 -16.73 L527.75 -15.90 L527.75 -15.09 L527.75 -14.03 L527.75 -12.99 L527.75 -11.97 L527.75 -10.98 L527.75 -10.00 L527.75 -9.04 L527.75 -8.11 L527.75 -7.19 L527.75 -6.28 L527.75 -5.39 L527.75 -4.52 L527.75 -3.67 L527.75 -2.83 L527.75 -2.00 L527.75 -1.18 L527.75 -0.38 L527.75 0.60 L527.75 1.56 L527.75 2.50 L527.75 3.43 L527.75 4.34 L527.75 5.23 L527.75 6.11 L527.75 6.97 L527.75 7.81 L527.75 8.64 L527.75 9.46 L527.75 10.27 L527.75 11.21 L527.75 12.14 L527.75 13.06 L527.75 13.95 L527.75 14.83 L527.75 15.69 L527.75 16.54 L527.75 17.38 L527.75 18.20 L527.75 19.00 L527.75 19.93 L527.75 20.84 L527.75 21.73 L527.75 22.60 L527.75 23.46 L527.75 24.30 L527.75 25.13 L527.75 25.95 L527.75 26.75 L527.76 27.66 L527.76 28.54 L527.76 29.41 L527.76 30.26 L527.76 31.10 L527.76 31.93 L527.76 32.74 L527.76 33.64 L527.76 34.52 L527.76 35.38 L527.76 36.23 L527.76 37.07 L527.76 37.89 L527.76 38.70 L527.76 39.58 L527.76 40.45 L527.77 41.30 L527.77 42.14 L527.77 42.96 L527.77 43.77 L527.77 44.64 L527.77 45.50 L527.77 46.35 L527.78 47.18 L527.78 48.00 L527.78 48.80 L527.78 49.66 L527.78 50.50 L527.79 51.34 L527.79 52.15 L527.79 52.96 L527.79 53.81 L527.80 54.66 L527.80 55.48 L527.80 56.30 L527.81 57.10 L527.81 57.94 L527.82 58.78 L527.82 59.60 L527.82 60.40 L527.83 61.25 L527.84 62.08 L527.84 62.90 L527.85 63.71 L527.85 64.55 L527.86 65.38 L527.87 66.20 L527.88 67.01 L527.89 67.84 L527.90 68.67 L527.91 69.48 L527.92 70.28 L527.93 71.11 L527.94 71.93 L527.96 72.73 L527.97 73.52 L527.98 74.34 L528.00 75.14 L528.02 75.94 L528.04 76.76 L528.06 77.57 L528.08 78.36 L528.10 79.14 L528.12 79.95 L528.15 80.74 L528.17 81.52 L528.20 82.32 L528.23 83.12 L528.26 83.89 L528.30 84.69 L528.34 85.48 L528.37 86.25 L528.41 87.01 L528.46 87.79 L528.51 88.56 L528.55 89.32 L528.61 90.09 L528.66 90.86 L528.72 91.61 L528.78 92.37 L528.85 93.13 L528.92 93.87 L528.99 94.60 L529.07 95.34 L529.16 96.07 L529.24 96.80 L529.34 97.50 L529.44 98.23 L529.54 98.94 L529.65 99.64 L529.76 100.32 L529.88 101.02 L530.01 101.71 L530.14 102.39 L530.28 103.05 L530.43 103.72 L530.59 104.39 L530.76 105.04 L530.93 105.67 L531.10 106.30 L531.30 106.93 L531.50 107.55 L531.70 108.16 L531.92 108.75 L532.15 109.33 L532.38 109.90 L532.63 110.47 L532.90 111.02 L533.17 111.56 L533.45 112.08 L533.76 112.60 L534.07 113.11 L534.40 113.59 L534.74 114.05 L535.10 114.50 L535.48 114.93 L535.89 115.34 L536.31 115.73 L536.75 116.08 L537.23 116.41 L537.75 116.70 L538.31 116.95 L538.92 117.14 L539.62 117.25 L540.41 117.23 L541.08 117.09 L541.66 116.86 L542.18 116.58 L542.65 116.25 L543.08 115.88 L543.49 115.46 L543.86 115.02 L544.20 114.56 L544.52 114.07 L544.83 113.56 L545.11 113.02 L545.38 112.47 L545.63 111.91 L545.86 111.33 L546.09 110.74 L546.29 110.14 L546.49 109.52 L546.68 108.91 L546.85 108.27 L547.02 107.63 L547.18 106.98 L547.33 106.30 L547.48 105.64 L547.61 104.95 L547.74 104.28 L547.87 103.59 L547.98 102.88 L548.09 102.18 L548.20 101.47 L548.30 100.75 L548.40 100.03 L548.49 99.31 L548.58 98.57 L548.66 97.85 L548.74 97.11 L548.81 96.37 L548.88 95.60 L548.95 94.86 L549.02 94.11 L549.08 93.34 L549.14 92.57 L549.19 91.81 L549.25 91.04 L549.30 90.26 L549.35 89.47 L549.40 88.71 L549.44 87.93 L549.48 87.14 L549.52 86.34 L549.56 85.58 L549.60 84.80 L549.63 84.00 L549.67 83.20 L549.70 82.43 L549.73 81.65 L549.75 80.86 L549.78 80.06 L549.81 79.24 L549.83 78.47 L549.86 77.68 L549.88 76.88 L549.90 76.07 L549.92 75.26 L549.94 74.43 L549.96 73.64 L549.98 72.84 L550.00 72.03 L550.01 71.21 L550.03 70.38 L550.04 69.54 L550.06 68.74 L550.07 67.93 L550.08 67.12 L550.10 66.29 L550.11 65.45 L550.12 64.60 L550.13 63.80 L550.14 63.00 L550.15 62.18 L550.16 61.35 L550.17 60.51 L550.18 59.66 L550.18 58.86 L550.19 58.06 L550.20 57.25 L550.21 56.42 L550.21 55.59 L550.22 54.74 L550.23 53.89 L550.23 53.02 L550.24 52.22 L550.24 51.40 L550.25 50.58 L550.25 49.74 L550.26 48.90 L550.26 48.04 L550.27 47.18 L550.27 46.38 L550.27 45.58 L550.28 44.76 L550.28 43.93 L550.28 43.10 L550.29 42.25 L550.29 41.40 L550.29 40.53 L550.30 39.65 L550.30 38.85 L550.30 38.04 L550.30 37.22 L550.30 36.39 L550.31 35.55 L550.31 34.70 L550.31 33.84 L550.31 32.97 L550.31 32.09 L550.32 31.20 L550.32 30.39 L550.32 29.58 L550.32 28.76 L550.32 27.93 L550.32 27.08 L550.32 26.23 L550.33 25.37 L550.33 24.49 L550.33 23.61 L550.33 22.71 L550.33 21.80 L550.33 21.00 L550.33 20.18 L550.33 19.36 L550.33 18.52 L550.33 17.68 L550.34 16.83 L550.34 15.96 L550.34 15.09 L550.34 14.20 L550.34 13.30 L550.34 12.39 L550.34 11.47 L550.34 10.67 L550.34 9.86 L550.34 9.04 L550.34 8.22 L550.34 7.38 L550.34 6.53 L550.34 5.67 L550.34 4.80 L550.34 3.92 L550.34 3.03 L550.34 2.13 L550.34 1.22 L550.34 0.29 L550.34 -0.65 L550.34 -1.60 L550.35 -2.40 L550.35 -3.22 L550.35 -4.04 L550.35 -4.87 L550.35 -5.71 L550.35 -6.56 L550.35 -7.43 L550.35 -8.30 L550.35 -9.18 L550.35 -10.08 L550.35 -10.98 L550.35 -11.90 L550.35 -12.83 L550.35 -13.78 L550.35 -14.73 L550.35 -15.70 L550.35 -16.69 L550.35 -17.68 L550.35 -18.49 L550.35 -19.31 L550.35 -20.13 L550.35 -20.97 L550.35 -21.82 L550.35 -22.67 L550.35 -23.54 L550.35 -24.42 L550.35 -25.31 L550.35 -26.21 L550.35 -27.12 L550.35 -28.05 L550.35 -28.99 L550.35 -29.94 L550.35 -30.90 L550.35 -31.87 L550.35 -32.86 L550.35 -33.87 L550.35 -34.89 L550.35 -35.92 L550.35 -36.97 L550.35 -38.03 L550.35 -38.84 L550.35 -39.66 L550.35 -39.94"/>
</g>
<rect x="76.2" y="21.1" width="529.80" height="369.10" fill="none" stroke="#1c1c1c" stroke-width="1.4"/>
<g transform="translate(66.20,390.19) scale(1,0.975)"><text text-anchor="end"><tspan dy="-1.1">-</tspan><tspan dy="1.1">3</tspan><tspan class="s" dx="1.2">π</tspan></text></g><g transform="translate(66.20,330.67) scale(1,0.975)"><text text-anchor="end"><tspan dy="-1.1">-</tspan><tspan dy="1.1">2</tspan><tspan class="s" dx="1.2">π</tspan></text></g><g transform="translate(66.20,271.15) scale(1,0.975)"><text text-anchor="end">-<tspan class="s" dx="1.4">π</tspan></text></g><g transform="translate(65.70,211.23) scale(1,0.975)"><text text-anchor="end">0</text></g><g transform="translate(66.20,152.11) scale(1,0.975)"><text text-anchor="end"><tspan class="s">π</tspan></text></g><g transform="translate(66.20,92.59) scale(1,0.975)"><text text-anchor="end">2<tspan class="s" dx="1.2">π</tspan></text></g><g transform="translate(66.20,33.07) scale(1,0.975)"><text text-anchor="end">3<tspan class="s" dx="1.2">π</tspan></text></g>
<g transform="translate(78.40,413.90) scale(1,0.975)"><text text-anchor="middle">0</text></g><g transform="translate(208.95,413.90) scale(1,0.975)"><text text-anchor="middle"><tspan class="s">π</tspan>/2</text></g><g transform="translate(342.60,413.90) scale(1,0.975)"><text text-anchor="middle"><tspan class="s">π</tspan></text></g><g transform="translate(473.55,413.90) scale(1,0.975)"><text text-anchor="middle">3<tspan class="s" dx="0.5">π</tspan>/2</text></g><g transform="translate(606.60,413.90) scale(1,0.975)"><text text-anchor="middle">2<tspan class="s" dx="1.2">π</tspan></text></g>
<g transform="translate(341.80,440.60) scale(1,0.92)"><text text-anchor="middle"><tspan class="s" style="font-size:20.6px;stroke-width:0.1px">δ</tspan></text></g>
<g transform="translate(18.2,215.6) rotate(-90) scale(1.13,0.892)"><text><tspan class="s" style="font-size:18.8px;stroke-width:0.1px">φ</tspan><tspan dy="5.0" dx="-0.9" style="font-size:12.5px">∞</tspan></text></g>
<g transform="translate(525.60,345.70) scale(1,0.92)"><text text-anchor="end"><tspan style="stroke:none">Region I</tspan></text></g>
<g transform="translate(525.60,363.40) scale(1,0.92)"><text text-anchor="end"><tspan style="stroke:none">Region III</tspan></text></g>
<g transform="translate(525.00,381.20) scale(1,0.92)"><text text-anchor="end"><tspan style="stroke:none">Past singularity</tspan></text></g>
<g class="c"><path stroke="#ff0000" d="M536.7 340.2 H585"/><path stroke="#00ff00" d="M536.7 357.9 H585"/><path stroke="#0000ff" d="M536.7 375.7 H585"/></g>
</svg>
</body></html>
